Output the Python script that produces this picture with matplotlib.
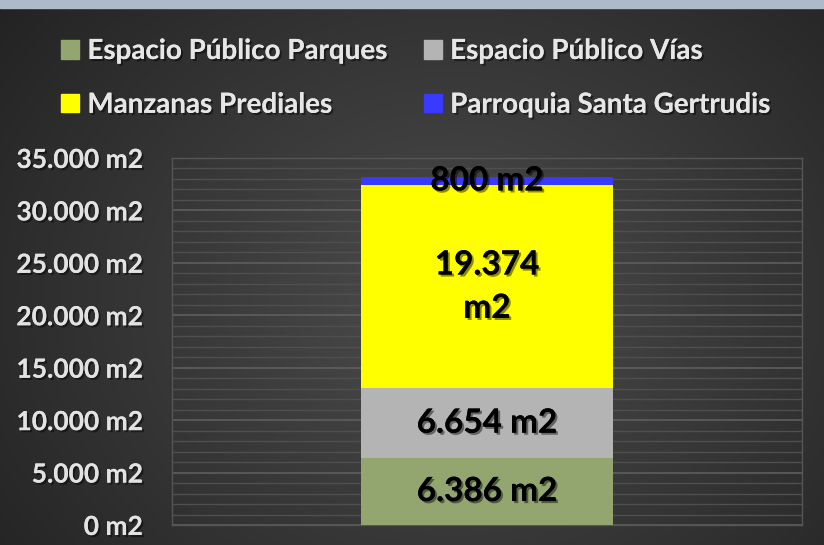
import numpy as np
import matplotlib
matplotlib.use("Agg")
import matplotlib.pyplot as plt
import matplotlib.patheffects as pe
from matplotlib.patches import Patch, Rectangle

categories = ["Total"]
series_names = ["Espacio Público Parques", "Espacio Público Vías",
                "Manzanas Prediales", "Parroquia Santa Gertrudis"]
series_values = [6386, 6654, 19374, 800]
series_labels = ["6.386 m2", "6.654 m2", "19.374\nm2", "800 m2"]
colors = ["#93a66f", "#b4b4b4", "#ffff00", "#3a3aff"]
yticks = [0, 5000, 10000, 15000, 20000, 25000, 30000, 35000]
ytick_labels = ["0 m2", "5.000 m2", "10.000 m2", "15.000 m2", "20.000 m2",
                "25.000 m2", "30.000 m2", "35.000 m2"]

plt.rcParams['font.family'] = ['Lato', 'DejaVu Sans']

W, H = 824, 545
fig = plt.figure(figsize=(W / 100, H / 100), dpi=100)

# background radial gradient
bg = fig.add_axes([0, 0, 1, 1], zorder=-10)
yy, xx = np.mgrid[0:H, 0:W]
cx, cy = W * 0.55, H * 0.55
r = np.sqrt(((xx - cx) / (W * 0.6)) ** 2 + ((yy - cy) / (H * 0.75)) ** 2)
v = np.clip(0.30 - 0.14 * r, 0.14, 0.30)
img = np.dstack([v, v, v])
bg.imshow(img, extent=[0, W, H, 0], aspect='auto')
bg.add_patch(Rectangle((0, 0), W, 8, color="#adbacb"))
bg.set_xlim(0, W)
bg.set_ylim(H, 0)
bg.axis('off')

left, right, top, bottom = 172, 802, 158, 525
ax = fig.add_axes([left / W, 1 - bottom / H, (right - left) / W, (bottom - top) / H])
ax.set_facecolor('none')

shadow = [pe.withSimplePatchShadow(offset=(1.5, -1.5), shadow_rgbFace='black', alpha=0.45), pe.Normal()]

x = np.arange(len(categories))
base = np.zeros(len(categories))
for name, val, lab, col in zip(series_names, series_values, series_labels, colors):
    bars = ax.bar(x, [val], bottom=base, width=0.4, color=col, label=name, zorder=3)
    for b in bars:
        ax.text(b.get_x() + b.get_width() / 2, b.get_y() + b.get_height() / 2, lab,
                ha='center', va='center', fontsize=24, fontweight='bold', color='black',
                linespacing=1.6, zorder=5, path_effects=shadow)
    base = base + np.array([val])

ax.set_xlim(-0.5, 0.5)
ax.set_ylim(0, 35000)
ax.set_xticks([])
ax.set_yticks(yticks)
ax.set_yticklabels(ytick_labels)
ax.set_yticks(np.arange(0, 35001, 1000), minor=True)
ax.tick_params(axis='y', which='both', length=0, pad=21, labelsize=19, labelcolor='#e2e2e2')
for t in ax.get_yticklabels():
    t.set_fontweight('bold')
    t.set_path_effects(shadow)
ax.grid(axis='y', which='major', color='#5e5e5e', linewidth=1.2, zorder=0)
ax.grid(axis='y', which='minor', color='#4f4f4f', linewidth=1.0, zorder=0)
for s in ax.spines.values():
    s.set_color('#555555')
    s.set_linewidth(1.0)

handles = [Patch(color=c) for c in colors]
order = [0, 2, 1, 3]
leg = fig.legend([handles[i] for i in order], [series_names[i] for i in order],
                 ncol=2, loc='upper left', bbox_to_anchor=(36 / W, 1 - 13 / H),
                 frameon=False, handlelength=0.65, handleheight=0.65, handletextpad=0.3,
                 columnspacing=1.3, labelspacing=1.0, prop={'weight': 'bold', 'size': 20})
for t in leg.get_texts():
    t.set_color('#e6e6e6')
    t.set_path_effects(shadow)

fig.savefig("out.png", dpi=100)
